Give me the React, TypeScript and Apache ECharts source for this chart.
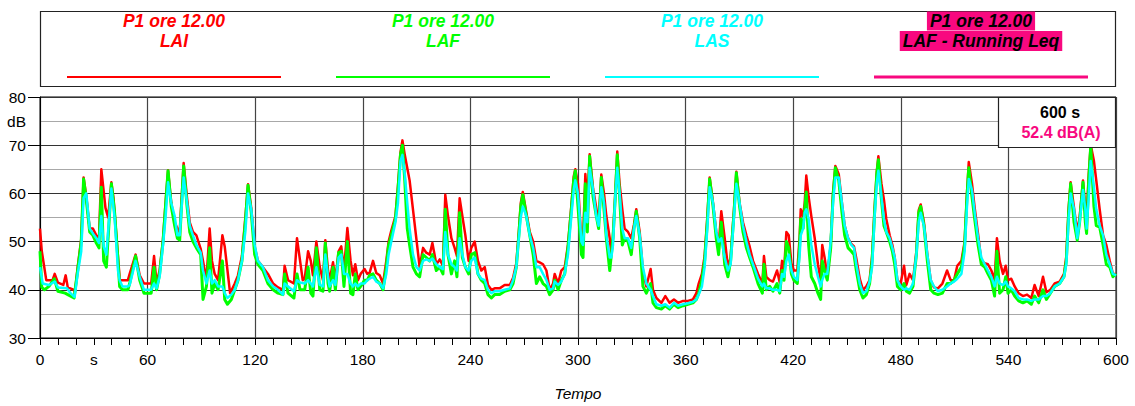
import React, { useEffect, useRef } from 'react';
import * as echarts from 'echarts';

// [time s, level dB]
const LAI: [number, number][] = [
  [0,52.7],[1,48],[3.5,42],[7,42],[8.2,43.3],[10,41.5],[13,41],[14.3,43],[15.5,40.5],[19,40],[19.5,39.5],[21,44.7],[23,50.5],[24.3,63.3],[25.8,59.5],[27.7,52.7],[29.5,52.7],[31.4,51.3],[32.9,50.7],[34.2,65],[36.5,57],[38,55],[39.8,62.3],[41,59],[44.5,42],[46,42],[49,42],[50,43.3],[53.3,47.3],[55.6,43],[58,41.3],[62,41.3],[63.6,47],[65,41.5],[66.7,44],[68.6,50.5],[70,58],[71.4,64.8],[73.2,58],[75.1,54],[76.6,52.7],[77.9,52],[80.1,66.3],[82,59],[83.5,54],[85.3,52],[87.2,51.3],[89.6,48.5],[90.9,46],[92.8,42],[94.6,52.7],[95.9,46],[97.4,43.3],[99.3,42],[101.7,51.3],[103,49],[106,39.3],[108.6,41.3],[110.4,43],[112.6,47],[114.5,55],[116,61.9],[117.8,57],[119.7,49],[121.5,46],[124.3,44.7],[127.1,43.3],[130,41.3],[132.7,40.5],[135.5,40],[136.4,45],[138.3,42],[141.6,41.3],[143.3,50.7],[146.5,42],[147.6,42.3],[149.5,48],[151,46],[152.2,43],[154.1,50],[156,44.7],[157.8,42],[159.1,50.3],[160.6,44],[161.5,42],[163.4,45.7],[164.7,42],[166.5,48],[168,49],[169.5,44],[171.4,52.8],[173.2,46],[174.5,43],[175.8,45.3],[177.3,42],[178.8,43.3],[181,44.3],[182.5,43.3],[183.8,43.5],[185.7,46],[187.5,43.5],[189.4,43],[191.3,41.3],[193.1,46],[194.4,50],[195.9,52.3],[198.2,55.3],[199.6,61.5],[201,68.5],[202.1,71],[203.4,68],[206.1,62.7],[211.7,44.7],[213.6,48.7],[215.4,47.7],[217.3,47.3],[218.8,49.7],[221,45.3],[222.9,46.3],[224.7,45],[226,59.7],[227.5,55.3],[229.4,50.7],[231.2,48.7],[232.5,47],[234,59],[235.5,55.3],[237.2,51.3],[239,46],[240.5,48.7],[242.4,50],[244.2,46],[246.1,44],[248,44.7],[249.8,41],[251.7,40],[253.5,40.3],[256.3,40.3],[259.1,41],[262,41],[263.8,42.5],[265.6,45.5],[267,52],[268.1,58],[269.2,60.3],[271.2,56],[273.1,52],[275,50],[276.8,46],[278.6,45.7],[280.5,45.3],[282.4,44],[284.2,40],[286.1,41.3],[287,43.3],[288.9,41.3],[290.7,44],[292.6,44.7],[294.4,49.3],[296.3,57.5],[297.6,63.5],[298.5,65],[300,62],[301.9,50],[302.8,50],[304.1,64],[305.2,58],[306.5,68.1],[308.4,61],[310.2,57],[311.5,54],[313,63.9],[314.5,60],[315.8,55.3],[317.7,50.7],[318.6,47.3],[319.5,51],[320.8,60],[321.9,68.7],[323.2,62],[324.7,56.7],[326,52.7],[327.9,52],[329.7,50.7],[331.2,53.5],[332.5,56.7],[334.4,52],[336.2,44],[338.1,40.7],[340.5,44.3],[341.8,40],[343.7,38.3],[346.5,37.3],[348.7,38.7],[351.1,37.3],[353.5,38],[355.8,37.3],[358.6,37.7],[361.3,37.7],[364.1,38],[366,39.3],[367.3,41.3],[369.1,43.3],[370.6,47],[372.1,55],[373.4,63.3],[375.3,58],[377.1,52],[378.4,49],[379.9,56.3],[381.8,50.7],[383.6,44.7],[385.1,46.7],[387,56.7],[388.3,64.5],[390.1,58],[392,54],[393.9,51.3],[395.7,49],[397.6,46],[400.4,43.3],[402.8,41.3],[403.7,47],[405,42.7],[406.9,42],[408.7,41.7],[411,44],[412.5,41.5],[413.8,46],[414.9,44],[416.2,52],[417.5,51.3],[419,45.5],[420.4,44],[422.3,44],[423.6,51],[424.2,56.7],[425.5,55.3],[426.4,58],[427.3,63.7],[428.6,59.3],[430.1,55.3],[432,50.7],[433.8,45.3],[435.3,42],[436.2,49.3],[437.5,46.7],[439,42.7],[440.9,49.3],[442.2,60],[443.5,65.7],[445.4,64],[447.2,58],[448.7,53.3],[450.6,50.7],[452.4,49.5],[453.9,49],[455.2,46.5],[457.1,42.3],[458.9,40],[460.8,40.7],[462.6,42],[464,47],[465.4,57],[466.6,64.5],[467.5,67.7],[469.2,62],[470.6,58.7],[471.9,54.7],[473.8,51.3],[475.3,49.3],[476.6,46.7],[478.1,42],[479.9,41.3],[481.8,45],[483.1,41],[484.9,43.3],[486.8,42],[488.7,48],[490,56.5],[491.1,57.7],[492.9,54],[494.8,47.3],[496.7,42],[498.5,40.5],[500.7,40.3],[503.2,41.3],[505.8,44],[507.8,42],[509.7,42],[511.5,45],[513.8,46],[515.6,50],[516.9,60],[517.9,66.5],[519.7,62],[521.2,57],[523.1,51.5],[524.9,46],[526.8,45.5],[528.6,45.3],[530.5,44],[532.3,42],[533.6,50.7],[535.1,46],[537,43.3],[538.5,45],[539.8,42],[541.6,42.3],[543.5,40.7],[545.7,39.3],[548.1,38.7],[550.4,39],[552.8,38.3],[554.6,41],[556.9,38.7],[559.3,42.7],[561.2,39.5],[563.4,40],[565.8,41.3],[568.6,41.7],[571,43.3],[572.3,47],[573.6,57],[574.7,62.3],[576.6,57],[578.4,52],[579.7,55],[581.6,62.7],[582.9,57],[583.6,55],[584.8,64],[585.9,70.1],[587.7,66.7],[589,62.7],[590.9,56.7],[592.8,51.3],[594.6,49.3],[596.5,46],[598.3,43.3],[600,43.3]
];

const LAF: [number, number][] = [
  [0,48],[1,40.5],[2.5,40],[5,40.7],[8,42.3],[10,39.7],[14,39.3],[15.5,39],[19,38.3],[21,44],[23,50],[24.3,63],[25.8,58.7],[27.7,52],[29.5,51.3],[31.4,49.7],[32.9,48.7],[34.2,61.3],[35.5,46],[37,44.7],[39.8,62],[41.6,56],[43.5,46],[44.4,40.7],[46,40],[49,40],[50,41.3],[53.3,47],[55.6,42],[58,39.3],[62,39.3],[63.6,44.7],[65,40],[66.7,43.3],[68.6,50],[70,57.3],[71.4,64.7],[73.2,57.3],[75.1,53.3],[76.6,50.7],[77.9,50.3],[80.1,65.7],[82,57.3],[83.5,52],[85.3,50],[87.2,48.7],[89.6,47.3],[90.9,38],[92.8,40.7],[94.6,48.7],[95.9,39.3],[97.4,41.3],[99.3,40],[101.7,46],[103,38],[104.5,37],[106.7,38],[108.6,40],[110.4,42],[112.6,46],[114.5,54],[116,61.7],[117.8,56],[119.7,47.3],[121.5,45.3],[124.3,44],[127.1,41.3],[130,40],[132.7,39.3],[135.5,39],[136.4,43.3],[138.3,39.3],[141.6,38.3],[143.3,43.3],[145,40],[147.6,40],[149.5,44.7],[151,39.3],[152.2,38.7],[154.1,48.7],[156,40],[157.8,39.7],[159.1,49.7],[160.6,41.3],[161.5,39.7],[163.4,44.7],[164.7,40],[166.5,47.7],[168,48],[169.5,40.7],[171.4,50],[173.2,39.3],[174.5,39],[175.8,43.3],[177.3,40],[178.8,40.7],[181,42],[182.5,42],[183.8,43],[185.7,43.3],[187.5,42],[189.4,41.3],[191.3,40],[193.1,44.7],[194.4,49.3],[195.9,51.3],[198.2,54.7],[199.6,60.7],[201,68],[202.1,70],[203.4,62.7],[204.8,52.7],[206.1,49.3],[208,44.7],[209.9,43.3],[211.7,42.7],[213.6,47.3],[215.4,46.7],[217.3,46],[218.8,47.3],[221,44],[222.9,44.7],[224.7,43.3],[226,56.7],[227.5,47.3],[229.4,43.3],[231.2,46],[232.5,42.7],[234,56],[235.5,46.7],[237.2,44.7],[239,43.3],[240.5,47.3],[242.4,47.7],[244.2,43.3],[246.1,42],[248,41.3],[249.8,39],[251.7,38.3],[253.5,39],[256.3,39],[259.1,39.7],[262,40],[263.8,41.3],[265.6,44.7],[267,51.3],[268.1,57.3],[269.2,59.7],[271.2,55.3],[273.1,51.3],[275,47.3],[276.8,41.3],[278.6,42.7],[280.5,41.3],[282.4,40.7],[284.2,39],[286.1,40],[287,42],[288.9,40],[290.7,42],[292.6,43.3],[294.4,48.7],[296.3,56.7],[297.6,62.7],[298.5,64.7],[300,57.3],[301.9,47.3],[302.8,46.7],[304.1,62],[305.2,52],[306.5,67.7],[308.4,59.3],[310.2,55.3],[311.5,52.7],[313,63.3],[314.5,56.7],[315.8,50.7],[317.7,44],[319.5,50.7],[320.8,59.3],[321.9,68],[323.2,59.3],[324.7,49.3],[326,50.7],[327.9,50],[329.7,47.3],[331.2,52.7],[332.5,56.3],[334.4,50.7],[336.2,40.7],[338.1,39.3],[340.5,41.3],[341.8,37.3],[343.7,36.3],[346.5,36],[348.7,36.7],[351.1,36],[353.5,37],[355.8,36.3],[358.6,36.7],[361.3,37],[364.1,37.3],[366,38],[367.3,39.3],[369.1,42],[370.6,46],[372.1,54],[373.4,63],[375.3,57.3],[377.1,50.7],[378.4,47.3],[379.9,54],[381.8,45.3],[383.6,42.7],[385.1,46],[387,56],[388.3,64.3],[390.1,57.3],[392,52],[393.9,48.7],[395.7,46.7],[397.6,44.7],[400.4,41.3],[402.8,39.3],[403.7,45.3],[405,40],[406.9,40.7],[408.7,39.7],[411,41.3],[412.5,39.3],[413.8,44],[414.9,42],[416.2,50],[417.5,48.7],[419,43.3],[420.4,42],[422.3,41.3],[423.6,49.3],[424.2,54.7],[425.5,52.7],[426.4,56.7],[427.3,60.3],[428.6,49.3],[430.1,42.7],[432,41.3],[433.8,39.3],[435.3,38],[436.2,46],[437.5,44],[439,42],[440.9,48.7],[442.2,59.3],[443.5,65.3],[445.4,62.7],[447.2,56],[448.7,51.3],[450.6,48.7],[452.4,48],[453.9,47.3],[455.2,44],[457.1,40],[458.9,38.3],[460.8,39],[462.6,41.3],[464,46],[465.4,56],[466.6,64],[467.5,67],[469.2,58.7],[470.6,53.3],[471.9,52],[473.8,50],[475.3,48],[476.6,45.3],[478.1,40.7],[479.9,40],[481.8,41.3],[483.1,39.7],[484.9,39.3],[486.8,40.7],[488.7,47.3],[490,56],[491.1,57.3],[492.9,53.3],[494.8,46],[496.7,40],[498.5,39.3],[500.7,39],[503.2,39.3],[505.8,41.3],[507.8,41.3],[509.7,42],[511.5,43.3],[513.8,44.7],[515.6,49.3],[516.9,59.3],[517.9,65.3],[519.7,59.3],[521.2,54.7],[523.1,49.3],[524.9,45.3],[526.8,44.7],[528.6,43.3],[530.5,42],[532.3,38.7],[533.6,48],[535.1,39.3],[537,40],[538.5,42.7],[539.8,39.3],[541.6,40],[543.5,38.7],[545.7,37.7],[548.1,37.3],[550.4,37.7],[552.8,37],[554.6,38.7],[556.9,37.3],[559.3,40],[561.2,38],[563.4,39.3],[565.8,40.7],[568.6,41.3],[571,42.7],[572.3,46],[573.6,56],[574.7,62],[576.6,54],[578.4,50.3],[579.7,54],[581.6,62.3],[582.9,54],[583.6,51.7],[584.8,62.7],[585.9,69.7],[587.7,57.3],[589,53.3],[590.9,53],[592.8,49.3],[594.6,45.3],[596.5,44.7],[598.3,42.7],[600,43.3]
];

const LAS: [number, number][] = [
  [0,44.7],[1.5,41.3],[5,41],[8.2,41.7],[10,40.5],[15,40.3],[17,39.3],[19.3,38.5],[21,43.3],[23,48],[24.3,59],[25.8,60],[27.7,52.7],[29.5,51.7],[31.4,50.7],[32.9,49.7],[34.2,55.3],[35.5,49],[37,47.3],[39.8,61],[41.6,55],[43.5,44],[44.4,42],[46,40.7],[49,40.7],[50,41],[53.3,46],[55.6,42.7],[58,40],[62,40],[63.6,41.3],[65,40.3],[66.7,42.7],[68.6,49.3],[70,55],[71.4,62.3],[73.2,58],[75.1,55.3],[76.6,51.3],[77.9,51.3],[80.1,63.3],[82,58],[83.5,53.3],[85.3,51.3],[87.2,49.3],[89.6,47.7],[90.9,44],[92.8,41.3],[94.6,44],[95.9,41.3],[97.4,42],[99.3,40.7],[101.7,40.7],[103,39.3],[104.5,38.3],[106.7,39],[108.6,40],[110.4,42],[112.6,46],[114.5,52],[116,60],[117.8,56.7],[119.7,49.3],[121.5,46],[124.3,44.7],[127.1,42],[130,40.7],[132.7,40],[135.5,39],[136.4,41.3],[138.3,40.7],[141.6,39.7],[143.3,42],[145,41.5],[147.6,41.3],[149.5,42],[151,41.3],[152.2,40.7],[154.1,44.7],[156,41],[157.8,40.7],[159.1,47.3],[160.6,42.7],[161.5,40.7],[163.4,42],[164.7,41],[166.5,46.7],[168,47.3],[169.5,43.3],[171.4,43.3],[173.2,41.3],[174.5,40.7],[175.8,41.3],[177.3,40.7],[178.8,41.3],[181,41.3],[182.5,42],[183.8,42.3],[185.7,42.7],[187.5,41.7],[189.4,41.3],[191.3,40.3],[193.1,43.3],[194.4,47.3],[195.9,50],[198.2,54],[199.6,58],[201,66.7],[202.1,68],[203.4,64],[204.8,58],[206.1,52.7],[208,47.3],[209.9,44.7],[211.7,44],[213.6,46],[215.4,46.3],[217.3,46],[218.8,46.5],[221,45.3],[222.9,44.7],[224.7,44.3],[226,52],[227.5,47.3],[229.4,45.3],[231.2,44.7],[232.5,44],[234,50.7],[235.5,47.3],[237.2,44.7],[239,44],[240.5,46],[242.4,46.7],[244.2,43.3],[246.1,42.3],[248,42],[249.8,40],[251.7,39.3],[253.5,39.7],[256.3,39.7],[259.1,40],[262,40.3],[263.8,42],[265.6,44.7],[267,50.7],[268.1,55],[269.2,57.3],[271.2,55.3],[273.1,51.3],[275,48.7],[276.8,44.7],[278.6,44.7],[280.5,43.3],[282.4,42],[284.2,40],[286.1,40.3],[287,41.7],[288.9,41],[290.7,41.7],[292.6,43.3],[294.4,47.3],[296.3,55.3],[297.6,60.7],[298.5,62.7],[300,60],[301.9,50],[302.8,49.3],[304.1,56],[305.2,54],[306.5,65.3],[308.4,60.7],[310.2,55.3],[311.5,53.3],[313,61.3],[314.5,58],[315.8,51.3],[317.7,46.7],[318.6,46.7],[319.5,49.3],[320.8,59.3],[321.9,65.3],[323.2,60],[324.7,52.7],[326,50.7],[327.9,50.7],[329.7,48.7],[331.2,52.7],[332.5,55.3],[334.4,51.3],[336.2,44.7],[338.1,41.3],[340.5,40],[341.8,38.7],[343.7,37],[346.5,36.7],[348.7,37],[351.1,36.3],[353.5,37.3],[355.8,36.7],[358.6,37],[361.3,37.2],[364.1,37.5],[366,38],[367.3,39],[369.1,40.7],[370.6,44.7],[372.1,52.7],[373.4,61.3],[375.3,58],[377.1,52],[378.4,50],[379.9,50.7],[381.8,46.7],[383.6,44],[385.1,45.3],[387,55.3],[388.3,62],[390.1,58],[392,53.3],[393.9,50],[395.7,47.3],[397.6,45.3],[400.4,42.3],[402.8,40.7],[403.7,41.3],[405,40.3],[406.9,40.3],[408.7,40],[411,40],[412.5,39.7],[413.8,43.3],[414.9,42.7],[416.2,46],[417.5,47.3],[419,44],[420.4,42.7],[422.3,42],[423.6,47.3],[424.2,51.3],[425.5,52.7],[426.4,56],[427.3,56.7],[428.6,54.7],[430.1,49.3],[432,45.3],[433.8,42.7],[435.3,40.7],[436.2,42],[437.5,43.3],[439,43.3],[440.9,50],[442.2,58],[443.5,63.3],[445.4,63.3],[447.2,58],[448.7,53.3],[450.6,50.7],[452.4,49.3],[453.9,48.7],[455.2,45.3],[457.1,41.3],[458.9,39.3],[460.8,39.7],[462.6,41.7],[464,44.7],[465.4,55.3],[466.6,62],[467.5,64.7],[469.2,59.3],[470.6,54.7],[471.9,52],[473.8,50.7],[475.3,48.7],[476.6,46.7],[478.1,42],[479.9,40.7],[481.8,40],[483.1,40.3],[484.9,40],[486.8,41.3],[488.7,47.3],[490,54],[491.1,56],[492.9,53.3],[494.8,47.3],[496.7,42],[498.5,40.7],[500.7,39.7],[503.2,40],[505.8,40.7],[507.8,41.3],[509.7,41.7],[511.5,42.3],[513.8,43.3],[515.6,48],[516.9,57.3],[517.9,63],[519.7,60.7],[521.2,56],[523.1,50.7],[524.9,46.7],[526.8,45.3],[528.6,44],[530.5,42.7],[532.3,40.7],[533.6,42.7],[535.1,41.3],[537,41],[538.5,41.7],[539.8,40.7],[541.6,40.3],[543.5,39.7],[545.7,38.3],[548.1,38],[550.4,38],[552.8,37.7],[554.6,38],[556.9,38],[559.3,38.7],[561.2,38.7],[563.4,39.3],[565.8,40.7],[568.6,41.3],[571,42.7],[572.3,45.3],[573.6,54.7],[574.7,60],[576.6,56.7],[578.4,50.7],[579.7,54],[581.6,60.7],[582.9,56.7],[583.6,52.7],[584.8,59.3],[585.9,66.7],[587.7,61.3],[589,56.7],[590.9,53.3],[592.8,51.3],[594.6,47.3],[596.5,45.3],[598.3,43.3],[600,43]
];

const LEGEND_TITLE = 'P1 ore 12.00';
const LEGEND_NAMES = ['LAI', 'LAF', 'LAS', 'LAF - Running Leq'];
const LEGEND_COLORS = ['#ff0000', '#00ff00', '#00ffff', '#f8087f'];
const SUMMARY_TIME = '600 s';
const SUMMARY_LEVEL = '52.4 dB(A)';
const X_MIN = 0, X_MAX = 600, Y_MIN = 30, Y_MAX = 80;

const FONT = "'Liberation Sans', Arial, sans-serif";

export default function App() {
  const ref = useRef<HTMLDivElement>(null);
  useEffect(() => {
    if (!ref.current) return;
    const chart = echarts.init(ref.current, null, { renderer: 'svg' });

    const legendEls: any[] = [
      { type: 'rect', shape: { x: 40.5, y: 11.5, width: 1075, height: 75 }, style: { fill: '#fff', stroke: '#222', lineWidth: 1.2 }, z: 0 },
    ];
    LEGEND_NAMES.forEach((name, i) => {
      const cx = 174 + 269 * i;
      const special = i === 3;
      legendEls.push({
        type: 'text', x: cx, y: 21, z: 2,
        style: {
          text: LEGEND_TITLE, fill: special ? '#000' : LEGEND_COLORS[i],
          font: `italic bold 17.5px ${FONT}`, align: 'center', verticalAlign: 'middle',
          backgroundColor: special ? LEGEND_COLORS[i] : undefined, padding: special ? [1, 3, 0, 3] : 0,
        },
      });
      legendEls.push({
        type: 'text', x: cx, y: 41, z: 2,
        style: {
          text: name, fill: special ? '#000' : LEGEND_COLORS[i],
          font: `italic bold 17.5px ${FONT}`, align: 'center', verticalAlign: 'middle',
          backgroundColor: special ? LEGEND_COLORS[i] : undefined, padding: special ? [1, 3, 1, 3] : 0,
        },
      });
      legendEls.push({
        type: 'line', z: 2,
        shape: { x1: cx - 107, y1: 77, x2: cx + 107, y2: 77 },
        style: { stroke: LEGEND_COLORS[i], lineWidth: special ? 3 : 2 },
      });
    });

    const summaryEls: any[] = [
      { type: 'rect', shape: { x: 998.5, y: 97.5, width: 117, height: 50 }, style: { fill: '#fff', stroke: '#222', lineWidth: 1.2 }, z: 10 },
      { type: 'text', x: 1060, y: 112, z: 11, style: { text: SUMMARY_TIME, fill: '#000', font: `bold 16px ${FONT}`, align: 'center', verticalAlign: 'middle' } },
      { type: 'text', x: 1061, y: 132, z: 11, style: { text: SUMMARY_LEVEL, fill: LEGEND_COLORS[3], font: `bold 16px ${FONT}`, align: 'center', verticalAlign: 'middle' } },
    ];

    const lineSeries = (name: string, data: [number, number][], color: string, width: number, z: number) => ({
      type: 'line', name, data, xAxisIndex: 0, yAxisIndex: 0,
      symbol: 'none', showSymbol: false, z,
      lineStyle: { color, width, join: 'round' },
      itemStyle: { color },
      emphasis: { disabled: true },
    });

    chart.setOption({
      animation: false,
      backgroundColor: '#fff',
      textStyle: { fontFamily: FONT },
      grid: { left: 40, top: 97, width: 1076, height: 252, show: true, borderColor: '#000', borderWidth: 1, containLabel: false },
      xAxis: [
        {
          type: 'value', min: X_MIN, max: X_MAX, interval: 10,
          name: 'Tempo', nameLocation: 'middle', nameGap: 47,
          nameTextStyle: { fontStyle: 'italic', fontSize: 15.5, color: '#000', fontFamily: FONT },
          axisLine: { show: true, lineStyle: { color: '#000', width: 1 } },
          axisTick: { show: true, length: 7, inside: false, lineStyle: { color: '#000' } },
          axisLabel: {
            color: '#000', fontSize: 15.5, margin: 13, fontFamily: FONT,
            formatter: (v: number) => (v % 60 === 0 ? String(v) : v === 30 ? 's' : ''),
          },
          splitLine: { show: false },
        },
        {
          type: 'value', min: X_MIN, max: X_MAX, interval: 60, position: 'bottom',
          axisLine: { show: false }, axisTick: { show: false }, axisLabel: { show: false },
          splitLine: { show: true, lineStyle: { color: '#444', width: 1.2 } },
        },
      ],
      yAxis: [
        {
          type: 'value', min: Y_MIN, max: Y_MAX, interval: 10,
          axisLine: { show: true, lineStyle: { color: '#000', width: 1 } },
          axisTick: { show: true, length: 12, lineStyle: { color: '#000' } },
          axisLabel: { color: '#000', fontSize: 15.5, margin: 14, fontFamily: FONT },
          splitLine: { show: true, lineStyle: { color: '#333', width: 1.2 } },
          minorTick: { show: false, splitNumber: 2 },
          minorSplitLine: { show: true, lineStyle: { color: '#a8a8a8', width: 1.2 } },
        },
        {
          type: 'value', min: Y_MIN, max: Y_MAX, interval: 5, position: 'left',
          axisLine: { show: false }, axisTick: { show: false }, splitLine: { show: false },
          axisLabel: {
            color: '#000', fontSize: 15.5, margin: 14, fontFamily: FONT,
            formatter: (v: number) => (v === 75 ? 'dB' : ''),
          },
        },
      ],
      series: [
        lineSeries('LAI', LAI, '#ff0000', 2.5, 2),
        lineSeries('LAF', LAF, '#00ff00', 3, 3),
        lineSeries('LAS', LAS, '#00ffff', 2.5, 4),
      ],
      graphic: [...legendEls, ...summaryEls],
    });

    return () => chart.dispose();
  }, []);

  return <div ref={ref} style={{ position: 'absolute', left: 0, top: 0, width: 1135, height: 406 }} />;
}
